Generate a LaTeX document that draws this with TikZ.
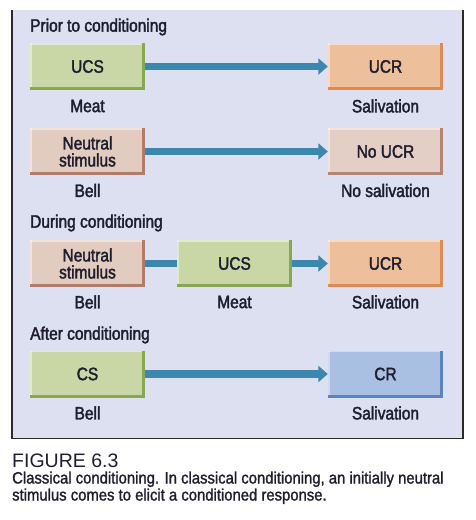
\documentclass[tikz,border=0pt]{standalone}
\usepackage{fontspec}
\setmainfont{Liberation Sans}
\newfontfamily\cond[FakeStretch=0.86,FakeBold=2]{Liberation Sans}
\newfontfamily\capfont[FakeStretch=0.9,FakeBold=1.5]{Liberation Sans}
\usetikzlibrary{arrows.meta}
\definecolor{panelbg}{HTML}{DCE0F1}
\definecolor{panelrule}{HTML}{2A2A2A}
\definecolor{ink}{HTML}{1E1E2E}
\definecolor{arrowblue}{HTML}{3C87AE}
\definecolor{grfill}{HTML}{C9D7A6}\definecolor{gredge}{HTML}{86A84E}
\definecolor{nsfill}{HTML}{E2CCC0}\definecolor{nsedge}{HTML}{B47C68}
\definecolor{orfill}{HTML}{EEBF9B}\definecolor{oredge}{HTML}{DE8A52}
\definecolor{nufill}{HTML}{E3CFC5}\definecolor{nuedge}{HTML}{B58472}
\definecolor{blfill}{HTML}{A9C0E2}\definecolor{bledge}{HTML}{5B83C2}
\tikzset{
  txt/.style={font=\cond\fontsize{18}{17}\selectfont, text=ink, inner sep=0pt, align=center},
  cbox/.style 2 args={txt, fill=#1, minimum width=115pt, minimum height=47pt,
    path picture={
      \draw[line width=1.6pt, white, opacity=0.45]
        ([yshift=-0.8pt]path picture bounding box.north west) -- ([xshift=-1pt,yshift=-0.8pt]path picture bounding box.north east);
      \draw[line width=1.6pt, white, opacity=0.45]
        ([xshift=0.8pt]path picture bounding box.south west) -- ([xshift=0.8pt]path picture bounding box.north west);
      \draw[line width=2.6pt, #2]
        ([yshift=1.3pt]path picture bounding box.south west) -- ([xshift=-1.3pt,yshift=1.3pt]path picture bounding box.south east)
        -- ([xshift=-1.3pt]path picture bounding box.north east);
    }},
  lbl/.style={txt},
  head/.style={txt, anchor=west},
  conn/.style={draw=arrowblue, line width=7.5pt},
  arr/.style={conn, -{Triangle[length=9.5pt,width=16pt]}},
}
\begin{document}
\begin{tikzpicture}[x=1pt,y=-1pt]
\useasboundingbox (0,0) rectangle (476,520);
% panel
\fill[panelbg] (12,10) rectangle (463,438.5);
\draw[panelrule, line width=1.5pt] (12,10) -- (12,438.5) -- (463,438.5) -- (463,10);

% headers
\node[head] (h1) at (30,27) {Prior to conditioning};
\node[head] (h3) at (30,223) {During conditioning};
\node[head] (h4) at (30,335) {After conditioning};

% row 1
\node[cbox={grfill}{gredge}] (ucs1) at (87.5,66.5) {UCS};
\node[cbox={orfill}{oredge}] (ucr1) at (385.5,66.5) {UCR};
\node[lbl] (l11) at (87.5,106) {Meat};
\node[lbl] (l12) at (385.5,106) {Salivation};
\draw[arr] (ucs1) -- (ucr1);

% row 2
\node[cbox={nsfill}{nsedge}] (ns2) at (87.5,151.5) {Neutral\\stimulus};
\node[cbox={nufill}{nuedge}] (nu2) at (385.5,151.5) {No UCR};
\node[lbl] (l21) at (87.5,190.5) {Bell};
\node[lbl] (l22) at (385.5,190.5) {No salivation};
\draw[arr] (ns2) -- (nu2);

% row 3
\node[cbox={nsfill}{nsedge}] (ns3) at (87.5,263.5) {Neutral\\stimulus};
\node[cbox={grfill}{gredge}] (ucs3) at (234.5,263.5) {UCS};
\node[cbox={orfill}{oredge}] (ucr3) at (385.5,263.5) {UCR};
\node[lbl] (l31) at (87.5,302) {Bell};
\node[lbl] (l32) at (234.5,302) {Meat};
\node[lbl] (l33) at (385.5,302) {Salivation};
\draw[conn] (ns3) -- (ucs3);
\draw[arr] (ucs3) -- (ucr3);

% row 4
\node[cbox={grfill}{gredge}] (cs4) at (87.5,374) {CS};
\node[cbox={blfill}{bledge}] (cr4) at (385.5,374) {CR};
\node[lbl] (l41) at (87.5,413) {Bell};
\node[lbl] (l42) at (385.5,413) {Salivation};
\draw[arr] (cs4) -- (cr4);

% caption
\node[anchor=base west, inner sep=0pt, text=ink, font=\fontsize{19.5}{19.5}\selectfont] (fig) at (12,467) {FIGURE 6.3};
\node[anchor=base west, inner sep=0pt, text=ink, font=\capfont\fontsize{16.5}{16.5}\selectfont] (cap1) at (12,483.5) {Classical conditioning. In classical conditioning, an initially neutral};
\node[anchor=base west, inner sep=0pt, text=ink, font=\capfont\fontsize{16.5}{16.5}\selectfont] (cap2) at (12,500.5) {stimulus comes to elicit a conditioned response.};
\end{tikzpicture}
\end{document}
